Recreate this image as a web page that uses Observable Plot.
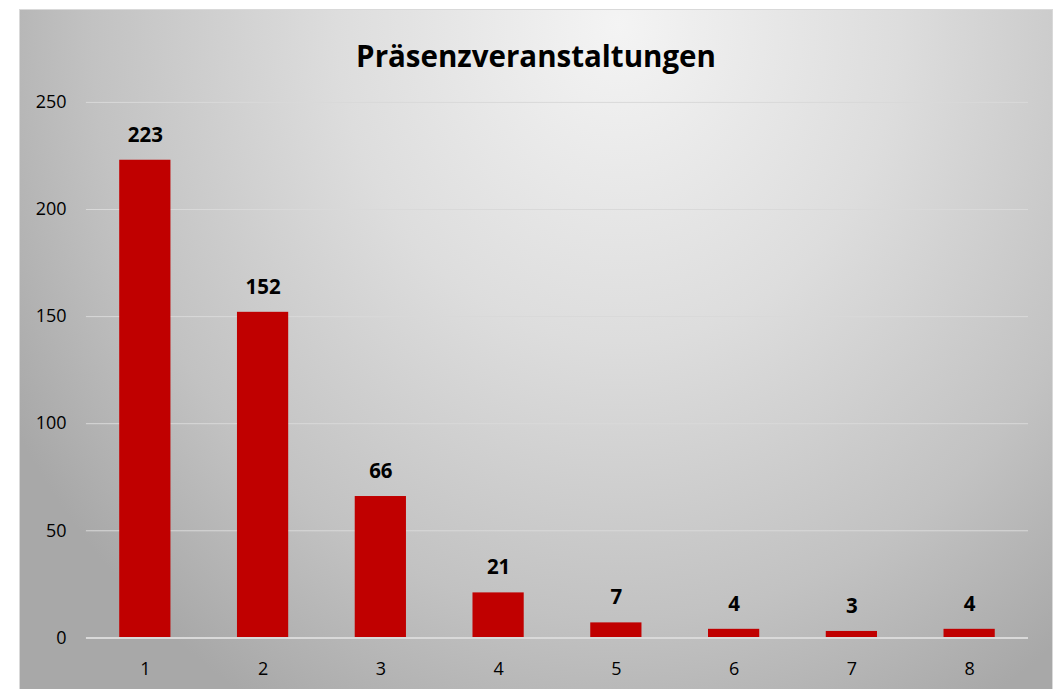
<!DOCTYPE html>
<html>
<head>
<meta charset="utf-8">
<script src="https://cdn.jsdelivr.net/npm/d3@7"></script>
<script src="https://cdn.jsdelivr.net/npm/@observablehq/plot@0.6"></script>
<style>
  html, body { margin: 0; padding: 0; background: #ffffff; }
  body { width: 1060px; height: 689px; position: relative; overflow: hidden; font-family: "Open Sans", sans-serif; }
  #chart {
    position: absolute; left: 19px; top: 9px; width: 1032px; height: 690px;
    border: 1px solid #d9d9d9; border-bottom: none;
    background: radial-gradient(ellipse 68% 115% at 58% 2%, #f4f4f4 0%, #dddddd 40%, #c2c2c2 75%, #a8a8a8 100%);
  }
  #title {
    position: absolute; left: 0; right: 0; top: 28px; text-align: center;
    font-family: "Open Sans", sans-serif; font-weight: 700; font-size: 29.5px; line-height: 36px; color: #000;
  }
  #plot { position: absolute; left: -1px; top: 0px; }
</style>
</head>
<body>
<div id="chart">
  <div id="title">Präsenzveranstaltungen</div>
  <div id="plot"></div>
</div>
<script>
const categories = ["1", "2", "3", "4", "5", "6", "7", "8"];
const values = [223, 152, 66, 21, 7, 4, 3, 4];
const yTicks = [0, 50, 100, 150, 200, 250];

const data = categories.map((c, i) => ({category: c, value: values[i]}));

const chart = Plot.plot({
  width: 1034,
  height: 680,
  marginLeft: 67,
  marginRight: 24,
  marginTop: 92,
  marginBottom: 52,
  style: {background: "transparent", fontFamily: "'Open Sans', sans-serif", fontSize: "18px", color: "#000"},
  x: {domain: categories, paddingInner: 0.565, paddingOuter: 0.2825, round: false, label: null},
  y: {domain: [0, 250], ticks: yTicks, label: null},
  marks: [
    Plot.gridY(yTicks.filter(d => d > 0), {stroke: "#d9d9d9", strokeOpacity: 1, strokeWidth: 1}),
    Plot.barY(data, {x: "category", y: "value", fill: "#c00000"}),
    Plot.ruleY([0], {stroke: "#d9d9d9", strokeWidth: 2}),
    Plot.axisY({ticks: yTicks, tickSize: 0, tickPadding: 20, fontSize: 18, label: null}),
    Plot.axisX({tickSize: 0, tickPadding: 24, fontSize: 18, label: null}),
    Plot.text(data, {x: "category", y: "value", text: d => String(d.value), dy: -25, fontWeight: "bold", fontSize: 20.5, fill: "#000"})
  ]
});
document.getElementById("plot").appendChild(chart);
</script>
</body>
</html>
